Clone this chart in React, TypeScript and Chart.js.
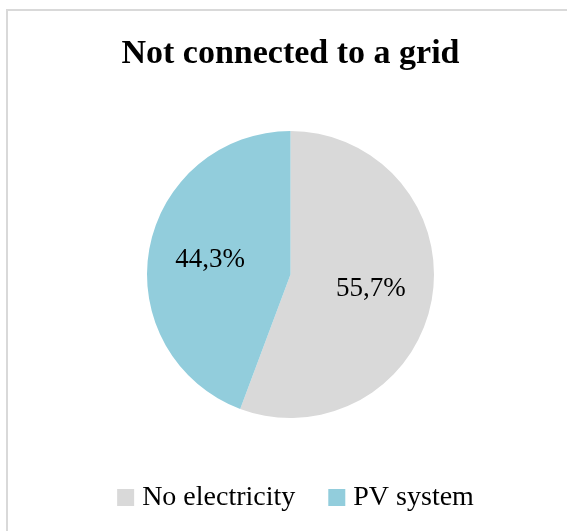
import { useEffect, useRef } from "react";
import { Chart, registerables } from "chart.js";

Chart.register(...registerables);

const chartTitle = "Not connected to a grid";
const categories = ["No electricity", "PV system"];
const shares = [55.7, 44.3];
const sliceColors = ["#d9d9d9", "#92cddc"];

const SERIF = '"Liberation Serif", "Times New Roman", serif';

// Percentage labels placed inside each slice along its mid-angle.
const sliceLabels = {
  id: "sliceLabels",
  afterDatasetsDraw(chart: any, _args: any, opts: any) {
    const ctx = chart.ctx as CanvasRenderingContext2D;
    const meta = chart.getDatasetMeta(0);
    const values = chart.data.datasets[0].data as number[];
    ctx.save();
    ctx.font = `${opts.fontSize}px ${SERIF}`;
    ctx.fillStyle = "#000";
    ctx.textAlign = "center";
    ctx.textBaseline = "middle";
    meta.data.forEach((arc: any, i: number) => {
      const { x, y, startAngle, endAngle, outerRadius } = arc.getProps(
        ["x", "y", "startAngle", "endAngle", "outerRadius"],
        true
      );
      const mid = (startAngle + endAngle) / 2;
      const r = outerRadius * opts.radiusFraction;
      const text = values[i].toFixed(1).replace(".", ",") + "%";
      ctx.fillText(text, x + Math.cos(mid) * r, y + Math.sin(mid) * r);
    });
    ctx.restore();
  },
};

// Horizontal legend with square swatches below the pie.
const bottomLegend = {
  id: "bottomLegend",
  afterDraw(chart: any, _args: any, opts: any) {
    const ctx = chart.ctx as CanvasRenderingContext2D;
    const labels = chart.data.labels as string[];
    const colors = chart.data.datasets[0].backgroundColor as string[];
    ctx.save();
    ctx.font = `${opts.fontSize}px ${SERIF}`;
    const widths = labels.map((l) => ctx.measureText(l).width);
    const itemW = widths.map((w) => opts.box + opts.gap + w);
    const total =
      itemW.reduce((a, b) => a + b, 0) + opts.spacing * (labels.length - 1);
    let x = opts.centerX - total / 2;
    labels.forEach((label, i) => {
      ctx.fillStyle = colors[i];
      ctx.fillRect(x, opts.boxTop, opts.box, opts.box);
      ctx.fillStyle = "#000";
      ctx.textAlign = "left";
      ctx.textBaseline = "alphabetic";
      ctx.fillText(label, x + opts.box + opts.gap, opts.baseline);
      x += itemW[i] + opts.spacing;
    });
    ctx.restore();
  },
};

export default function App() {
  const canvasRef = useRef<HTMLCanvasElement | null>(null);

  useEffect(() => {
    if (!canvasRef.current) return;
    const chart = new Chart(canvasRef.current, {
      type: "pie",
      data: {
        labels: categories,
        datasets: [
          {
            data: shares,
            backgroundColor: sliceColors,
            borderWidth: 0,
          },
        ],
      },
      options: {
        responsive: false,
        animation: false,
        layout: { padding: { left: 20, right: 6, top: 0, bottom: 113 } },
        plugins: {
          title: {
            display: true,
            text: chartTitle,
            color: "#000",
            font: { family: SERIF, size: 34, weight: "bold", lineHeight: 1.2 },
            padding: { top: 33.6, bottom: 56.6 },
          },
          legend: { display: false },
          tooltip: { enabled: false },
          sliceLabels: { fontSize: 27, radiusFraction: 0.57 },
          bottomLegend: {
            fontSize: 28,
            box: 17,
            gap: 8,
            spacing: 33,
            centerX: 295.5,
            boxTop: 489,
            baseline: 505,
          },
        } as any,
      },
      plugins: [sliceLabels, bottomLegend],
    });
    return () => chart.destroy();
  }, []);

  return (
    <div
      style={{
        position: "absolute",
        left: 0,
        top: 0,
        width: 567,
        height: 531,
        overflow: "hidden",
        background: "#fff",
      }}
    >
      <div
        style={{
          position: "absolute",
          left: 6,
          top: 9,
          width: 640,
          height: 640,
          border: "2px solid #d9d9d9",
          boxSizing: "border-box",
        }}
      />
      <canvas
        ref={canvasRef}
        width={567}
        height={531}
        style={{ position: "absolute", left: 0, top: 0 }}
      />
    </div>
  );
}
